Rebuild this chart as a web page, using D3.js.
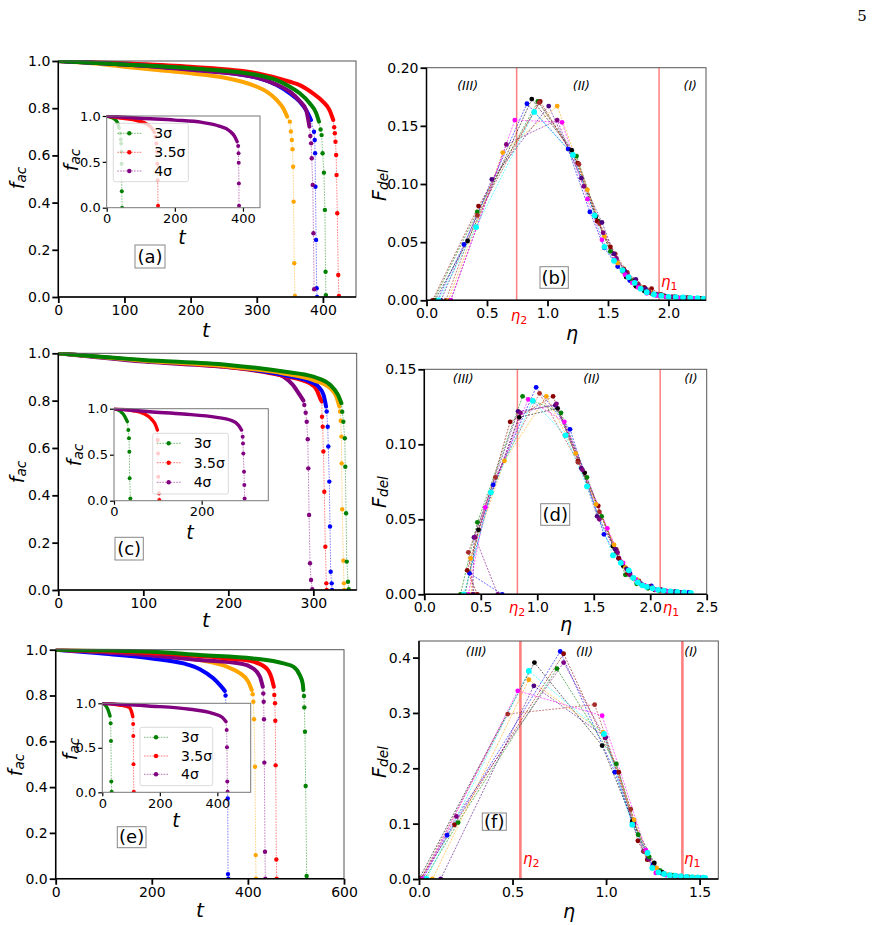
<!DOCTYPE html>
<html>
<head>
<meta charset="utf-8">
<script src="https://cdn.jsdelivr.net/npm/d3@7"></script>
<style>
  body { margin: 0; background: #fff; }
  svg { display: block; font-family: "DejaVu Sans", sans-serif; }
</style>
</head>
<body>
<script>
// ---------- data ----------
// decay curves f_ac(t): "band" is the dense part, "drop" the separated markers
var aMain = [
  { name: "orange", band: [[0,1],[50,0.99],[100,0.976],[150,0.962],[200,0.948],[250,0.93],[300,0.891],[315,0.87],[330,0.835],[340,0.80],[346,0.764]],
    drop: [[350,0.743],[351.6,0.701],[353,0.665],[354,0.626],[355,0.552],[355.7,0.404],[356.7,0.143],[357.7,0.004]] },
  { name: "red", band: [[0,1],[100,0.99],[200,0.976],[300,0.948],[350,0.912],[365,0.898],[385,0.863],[400,0.828],[410,0.792],[415.6,0.75]],
    drop: [[417,0.719],[418,0.694],[419,0.658],[420,0.602],[420.6,0.517],[421.7,0.355],[423.2,0.093],[424.2,0.004]] },
  { name: "blue", band: [[0,1],[100,0.985],[200,0.965],[300,0.93],[330,0.898],[350,0.863],[365,0.828],[375,0.79],[382,0.75]],
    drop: [[386.5,0.70],[387.6,0.665],[388.2,0.609],[388.7,0.467],[389.7,0.242],[390.6,0.037],[391.2,0.0]] },
  { name: "purple", band: [[0,1],[100,0.985],[200,0.963],[300,0.93],[330,0.9],[350,0.87],[365,0.83],[374.6,0.792],[379.6,0.722]],
    drop: [[381,0.682],[382.2,0.651],[383.1,0.588],[384.6,0.475],[385.7,0.27],[386.7,0.033]] },
  { name: "green", band: [[0,1],[100,0.985],[200,0.969],[300,0.941],[330,0.919],[350,0.891],[365,0.863],[380,0.821],[390,0.778],[394,0.743]],
    drop: [[396.5,0.71],[398,0.686],[399.5,0.609],[401.5,0.527],[403,0.369],[404,0.107],[404.5,0.008]] }
]
var aInset = [
  { name: "green", band: [[0,1],[13.7,0.985],[25,0.96],[32.5,0.92],[36.4,0.865]],
    drop: [[39.4,0.81],[41.4,0.745],[42.4,0.70],[43.3,0.61],[43.8,0.48],[44.3,0.18],[45.3,0.0]] },
  { name: "red", band: [[0,1],[49,0.974],[88.6,0.949],[118,0.912],[133,0.865],[140,0.82]],
    drop: [[142.8,0.774],[145.8,0.70],[147.8,0.61],[148.7,0.48],[149.7,0.30],[150.7,0.02]] },
  { name: "purple", band: [[0,1],[100,0.975],[200,0.955],[280,0.93],[330,0.89],[360,0.84],[375,0.78],[383,0.72]],
    drop: [[386,0.673],[387,0.593],[387.5,0.49],[388,0.265],[388.5,0.02]] }
]
var cMain = [
  { name: "purple", band: [[0,1],[100,0.965],[200,0.941],[245,0.923],[265,0.901],[276,0.866],[284,0.824],[288.3,0.8]],
    drop: [[289.4,0.782],[291,0.749],[292.2,0.711],[293.4,0.637],[294.1,0.514],[295,0.317],[296.1,0.113],[297.3,0.042],[298.8,0.003]] },
  { name: "red", band: [[0,1],[100,0.968],[200,0.942],[265,0.905],[296,0.873],[304,0.845],[308,0.81],[310,0.796]],
    drop: [[310.2,0.732],[311,0.69],[311.8,0.585],[312.9,0.415],[314.1,0.183],[315.3,0.028],[315.7,0]] },
  { name: "blue", band: [[0,1],[100,0.969],[200,0.944],[265,0.908],[296,0.88],[306,0.859],[312,0.824],[315,0.775]],
    drop: [[315.7,0.754],[316.9,0.69],[317.6,0.606],[318.8,0.458],[319.6,0.268],[320.4,0.077],[321.6,0.028],[322,0]] },
  { name: "orange", band: [[0,1],[100,0.969],[200,0.944],[265,0.915],[300,0.887],[320,0.852],[327,0.817],[330.6,0.775]],
    drop: [[331.4,0.754],[332.2,0.715],[333,0.648],[333.3,0.535],[334,0.341],[335.3,0.124],[336,0.028],[336.5,0]] },
  { name: "green", band: [[0,1],[100,0.972],[200,0.951],[265,0.923],[300,0.901],[320,0.866],[329,0.824],[333,0.789]],
    drop: [[334,0.753],[335.3,0.711],[337,0.641],[337.6,0.521],[338.5,0.324],[339.3,0.12],[340.8,0.035],[341.6,0.003]] }
]
var cInset = [
  { name: "green", band: [[0,1],[13.7,0.975],[25,0.913],[30.4,0.859]],
    drop: [[32.7,0.768],[34.2,0.678],[35,0.533],[35.7,0.243],[37.3,0.025]] },
  { name: "red", band: [[0,1],[44,0.978],[67,0.949],[86,0.884],[95,0.822],[99,0.768]],
    drop: [[99.6,0.659],[100.4,0.514],[101,0.261],[102.7,0.08],[103.4,0.007]] },
  { name: "purple", band: [[0,1],[82,0.967],[158,0.942],[234,0.906],[265,0.877],[283.7,0.822],[291,0.768]],
    drop: [[293.5,0.696],[294.3,0.623],[295,0.514],[296.6,0.315],[297.3,0.17],[298,0.025]] }
]
var eMain = [
  { name: "blue", band: [[0,1],[92,0.984],[200,0.962],[266,0.94],[300,0.915],[328,0.875],[342,0.845],[352,0.82]],
    drop: [[353.5,0.80],[355,0.72],[357,0.55],[358,0.35],[358.6,0.02],[359.3,0]] },
  { name: "orange", band: [[0,1],[200,0.977],[300,0.955],[356,0.926],[383.6,0.897],[401,0.86],[408,0.824]],
    drop: [[410,0.806],[411.3,0.773],[412.7,0.696],[414.8,0.489],[416.2,0.103],[416.9,0]] },
  { name: "purple", band: [[0,1],[200,0.975],[300,0.955],[383.6,0.94],[411,0.918],[425,0.882],[431,0.838]],
    drop: [[432.1,0.809],[432.8,0.773],[433.5,0.696],[434.2,0.507],[435.6,0.118],[436.3,0]] },
  { name: "red", band: [[0,1],[200,0.985],[356,0.962],[411,0.948],[439,0.918],[449.5,0.875],[454,0.838]],
    drop: [[455,0.802],[456.4,0.766],[457,0.69],[457.8,0.495],[459.2,0.084],[459.9,0]] },
  { name: "green", band: [[0,1],[200,0.991],[300,0.977],[411,0.962],[474,0.94],[494.5,0.926],[508,0.889],[514,0.853],[515.4,0.824]],
    drop: [[516.7,0.798],[517.4,0.748],[518.8,0.642],[520.2,0.405],[522.3,0.012]] }
]
var eInset = [
  { name: "green", band: [[0,1],[14.5,0.963],[23.5,0.895],[26.8,0.858]],
    drop: [[29,0.775],[30.2,0.577],[31.3,0.12],[32.4,0.007]] },
  { name: "red", band: [[0,1],[59,0.981],[92.7,0.955],[101.7,0.906],[106,0.85]],
    drop: [[107.3,0.768],[107.8,0.633],[108.4,0.315],[109.5,0.007]] },
  { name: "purple", band: [[0,1],[160,0.97],[305,0.933],[383,0.888],[416.7,0.843],[430,0.794]],
    drop: [[432.4,0.70],[433.5,0.506],[434.6,0.12],[435.7,0.007]] }
]
var legendNames = ["green", "red", "purple"]
var legendLabels = ["3\u03c3", "3.5\u03c3", "4\u03c3"]

// distributions F_del(eta)
var bSeries = [
  { name: "blue",    pts: [[0.09,0],[0.31,0.048],[0.83,0.169],[1.17,0.130],[1.35,0.076],[1.47,0.045],[1.58,0.029],[1.68,0.017],[1.77,0.010],[1.86,0.006],[1.96,0.004],[2.06,0.003],[2.16,0.002],[2.26,0.0015]] },
  { name: "black",   pts: [[0.07,0],[0.34,0.051],[0.87,0.173],[1.20,0.129],[1.40,0.072],[1.55,0.034],[1.65,0.020],[1.73,0.012],[1.80,0.008],[1.88,0.005],[1.97,0.0035],[2.07,0.0025],[2.17,0.002],[2.27,0.0015]] },
  { name: "green",   pts: [[0.06,0],[0.42,0.076],[0.92,0.171],[1.24,0.124],[1.42,0.068],[1.52,0.042],[1.62,0.025],[1.70,0.017],[1.78,0.010],[1.86,0.006],[1.95,0.004],[2.05,0.003],[2.15,0.002],[2.25,0.0015]] },
  { name: "maroon",  pts: [[0.05,0],[0.43,0.081],[0.94,0.171],[1.25,0.118],[1.41,0.068],[1.52,0.046],[1.63,0.027],[1.72,0.017],[1.80,0.011],[1.86,0.010],[1.94,0.005],[2.05,0.003],[2.16,0.002],[2.27,0.0015]] },
  { name: "brown",   pts: [[0.16,0],[0.42,0.073],[0.93,0.170],[1.26,0.117],[1.43,0.066],[1.56,0.040],[1.66,0.024],[1.75,0.014],[1.84,0.008],[1.93,0.005],[2.03,0.003],[2.14,0.002],[2.24,0.0015]] },
  { name: "orange",  pts: [[0.18,0],[0.63,0.127],[1.08,0.167],[1.33,0.095],[1.47,0.055],[1.58,0.032],[1.67,0.020],[1.76,0.012],[1.85,0.007],[1.95,0.004],[2.06,0.003],[2.17,0.002]] },
  { name: "indigo",  pts: [[0.12,0],[0.54,0.104],[1.01,0.167],[1.28,0.105],[1.45,0.067],[1.55,0.040],[1.64,0.025],[1.73,0.018],[1.81,0.010],[1.90,0.005],[2.00,0.003],[2.10,0.002],[2.21,0.0015]] },
  { name: "purple",  pts: [[0.20,0],[0.66,0.134],[1.08,0.155],[1.30,0.098],[1.46,0.058],[1.57,0.036],[1.66,0.022],[1.75,0.013],[1.84,0.007],[1.93,0.004],[2.03,0.003],[2.14,0.002]] },
  { name: "magenta", pts: [[0.20,0],[0.73,0.155],[1.12,0.153],[1.33,0.087],[1.45,0.052],[1.55,0.035],[1.64,0.022],[1.70,0.015],[1.75,0.011],[1.82,0.006],[1.90,0.004],[1.98,0.003],[2.08,0.002],[2.20,0.0015]] },
  { name: "cyan",    pts: [[0.10,0],[0.41,0.063],[0.89,0.162],[1.21,0.125],[1.39,0.073],[1.47,0.046],[1.55,0.034],[1.62,0.026],[1.67,0.020],[1.72,0.015],[1.77,0.010],[1.82,0.007],[1.88,0.005],[1.94,0.004],[2.00,0.003],[2.06,0.0028],[2.12,0.0025],[2.18,0.002],[2.24,0.0018],[2.29,0.0015]] }
]
var dSeries = [
  { name: "blue",    pts: [[0.69,0],[0.40,0.014],[0.61,0.073],[0.99,0.138],[1.29,0.110],[1.59,0.040],[1.72,0.024],[1.82,0.014],[1.92,0.007],[2.01,0.0056],[2.10,0.003],[2.22,0.0018],[2.34,0.0012]] },
  { name: "black",   pts: [[0.36,0],[0.48,0.043],[0.84,0.118],[1.18,0.124],[1.42,0.081],[1.67,0.032],[1.76,0.019],[1.85,0.011],[1.94,0.006],[2.04,0.003],[2.14,0.002],[2.26,0.0013]] },
  { name: "green",   pts: [[0.32,0],[0.47,0.048],[0.87,0.132],[1.21,0.121],[1.44,0.078],[1.57,0.052],[1.70,0.028],[1.78,0.013],[1.88,0.007],[1.98,0.004],[2.08,0.0025],[2.20,0.0015]] },
  { name: "maroon",  pts: [[0.47,0],[0.38,0.016],[0.76,0.115],[1.14,0.132],[1.36,0.089],[1.54,0.059],[1.72,0.024],[1.80,0.014],[1.90,0.008],[2.00,0.005],[2.10,0.003],[2.22,0.0016]] },
  { name: "brown",   pts: [[0.44,0],[0.39,0.028],[0.63,0.078],[1.02,0.134],[1.36,0.088],[1.55,0.055],[1.70,0.030],[1.80,0.016],[1.90,0.009],[2.00,0.005],[2.12,0.0025],[2.25,0.0014]] },
  { name: "orange",  pts: [[0.42,0],[0.41,0.024],[0.71,0.089],[1.08,0.132],[1.34,0.094],[1.52,0.060],[1.68,0.033],[1.78,0.018],[1.88,0.010],[1.98,0.005],[2.08,0.003],[2.20,0.0016]] },
  { name: "indigo",  pts: [[0.43,0],[0.44,0.038],[0.83,0.122],[1.16,0.126],[1.39,0.084],[1.53,0.052],[1.69,0.030],[1.79,0.017],[1.89,0.008],[1.99,0.005],[2.10,0.0028],[2.22,0.0016]] },
  { name: "purple",  pts: [[0.65,0],[0.45,0.038],[0.85,0.121],[1.17,0.127],[1.40,0.083],[1.55,0.050],[1.71,0.028],[1.82,0.013],[1.92,0.007],[2.02,0.004],[2.14,0.0022],[2.28,0.0012]] },
  { name: "magenta", pts: [[0.39,0],[0.54,0.058],[0.92,0.130],[1.24,0.115],[1.62,0.044],[1.76,0.021],[1.87,0.010],[1.95,0.006],[2.05,0.003],[2.16,0.002],[2.30,0.0012]] },
  { name: "cyan",    pts: [[0.35,0],[0.59,0.068],[0.96,0.129],[1.25,0.106],[1.44,0.072],[1.67,0.026],[1.74,0.021],[1.81,0.016],[1.85,0.011],[1.89,0.008],[1.93,0.006],[1.97,0.005],[2.02,0.004],[2.07,0.003],[2.12,0.0025],[2.18,0.002],[2.24,0.0016],[2.30,0.0013],[2.36,0.001]] }
]
var fSeries = [
  { name: "blue",    pts: [[0.02,0],[0.15,0.079],[0.755,0.411],[1.047,0.193],[1.14,0.102],[1.20,0.05],[1.25,0.025],[1.30,0.010],[1.36,0.006],[1.43,0.004],[1.50,0.002]] },
  { name: "maroon",  pts: [[0.01,0],[0.19,0.098],[0.773,0.407],[1.068,0.193],[1.17,0.069],[1.22,0.035],[1.28,0.015],[1.34,0.007],[1.41,0.004],[1.48,0.0025]] },
  { name: "indigo",  pts: [[0.116,0],[0.614,0.349],[0.998,0.256],[1.14,0.103],[1.225,0.038],[1.28,0.014],[1.35,0.007],[1.43,0.004],[1.51,0.002]] },
  { name: "purple",  pts: [[0.01,0],[0.20,0.113],[0.773,0.391],[0.995,0.255],[1.15,0.10],[1.23,0.036],[1.30,0.012],[1.38,0.005],[1.46,0.003]] },
  { name: "green",   pts: [[0.03,0],[0.209,0.102],[0.737,0.380],[1.055,0.208],[1.172,0.080],[1.23,0.04],[1.29,0.015],[1.36,0.007],[1.44,0.004],[1.52,0.002]] },
  { name: "black",   pts: [[0.0,0],[0.617,0.391],[0.979,0.241],[1.141,0.105],[1.258,0.029],[1.30,0.012],[1.37,0.006],[1.45,0.003],[1.52,0.002]] },
  { name: "orange",  pts: [[0.072,0],[0.587,0.360],[0.984,0.265],[1.15,0.107],[1.22,0.045],[1.27,0.02],[1.33,0.008],[1.40,0.005],[1.47,0.003]] },
  { name: "brown",   pts: [[0.01,0],[0.474,0.298],[0.939,0.315],[1.132,0.126],[1.20,0.05],[1.25,0.022],[1.31,0.01],[1.38,0.005],[1.45,0.003]] },
  { name: "magenta", pts: [[0.02,0],[0.528,0.340],[0.979,0.295],[1.213,0.052],[1.266,0.011],[1.32,0.007],[1.39,0.005],[1.46,0.003]] },
  { name: "cyan",    pts: [[0.04,0],[0.587,0.376],[0.989,0.262],[1.14,0.098],[1.222,0.047],[1.247,0.020],[1.28,0.012],[1.31,0.009],[1.34,0.007],[1.37,0.006],[1.40,0.005],[1.43,0.004],[1.46,0.0035],[1.49,0.003],[1.52,0.0025],[1.53,0.002]] }
]
// eta_2, eta_1 thresholds
var bEta = [0.745, 1.922]
var dEta = [0.824, 2.088]
var fEta = [0.542, 1.408]
var regionLabels = ["(III)", "(II)", "(I)"]

// tick values
var aTicksX = [0, 100, 200, 300, 400], cTicksX = [0, 100, 200, 300], eTicksX = [0, 200, 400, 600]
var mainTicksY = [0, 0.2, 0.4, 0.6, 0.8, 1.0]
var insetTicksY = [0, 0.5, 1.0]
var bTicksX = [0, 0.5, 1.0, 1.5, 2.0], bTicksY = [0, 0.05, 0.1, 0.15, 0.2]
var dTicksX = [0, 0.5, 1.0, 1.5, 2.0, 2.5], dTicksY = [0, 0.05, 0.1, 0.15]
var fTicksX = [0, 0.5, 1.0, 1.5], fTicksY = [0, 0.1, 0.2, 0.3, 0.4]

var palette = { green: "#008000", blue: "#0000ff", orange: "#ffa500", red: "#ff0000", purple: "#800080",
  black: "#000000", maroon: "#8b0000", brown: "#a52a2a", indigo: "#4b0082", magenta: "#ff00ff", cyan: "#00ffff" }

// ---------- drawing ----------
var W = 876, H = 925
var svg = d3.select("body").append("svg").attr("width", W).attr("height", H)
var clipCount = 0

function makeAxes(box, xDom, yDom, xTicks, yTicks, xFmt, yFmt, inset) {
  var x = d3.scaleLinear().domain(xDom).range([box.left, box.right])
  var y = d3.scaleLinear().domain(yDom).range([box.bottom, box.top])
  var g = svg.append("g")
  if (inset) {
    g.append("rect").attr("x", box.left).attr("y", box.top)
      .attr("width", box.right - box.left).attr("height", box.bottom - box.top).attr("fill", "#fff")
  }
  var id = "clip" + (clipCount++)
  g.append("clipPath").attr("id", id).append("rect")
    .attr("x", box.left).attr("y", box.top - 1)
    .attr("width", box.right - box.left).attr("height", box.bottom - box.top + 1)
  var plot = g.append("g").attr("clip-path", "url(#" + id + ")")

  var tickLen = inset ? 4 : 6
  var fs = inset ? 13 : 14
  var xAxis = g.append("g").attr("transform", "translate(0," + box.bottom + ")")
    .call(d3.axisBottom(x).tickValues(xTicks).tickFormat(xFmt).tickSize(tickLen).tickPadding(2))
  var yAxis = g.append("g").attr("transform", "translate(" + box.left + ",0)")
    .call(d3.axisLeft(y).tickValues(yTicks).tickFormat(yFmt).tickSize(tickLen).tickPadding(2))
  ;[xAxis, yAxis].forEach(function(a) {
    a.select(".domain").remove()
    a.selectAll("line").attr("stroke", "#000").attr("stroke-width", inset ? 1.2 : 1.8)
    a.selectAll("text").attr("font-size", fs).attr("fill", "#000")
      .attr("font-family", "DejaVu Sans")
  })
  // frame
  var frame = g.append("g").attr("fill", "none")
  frame.append("rect").attr("x", box.left).attr("y", box.top)
    .attr("width", box.right - box.left).attr("height", box.bottom - box.top)
    .attr("stroke", inset ? "#777" : "#555").attr("stroke-width", 1)
  if (!inset) {
    frame.append("path").attr("d", "M" + box.left + "," + box.top + "V" + box.bottom + "H" + box.right)
      .attr("stroke", "#000").attr("stroke-width", 1.5)
  }
  return { g: g, plot: plot, x: x, y: y, frame: frame }
}

function drawDecay(ax, series, bandW, r) {
  var thin = d3.line().x(function(d) { return ax.x(d[0]) }).y(function(d) { return ax.y(d[1]) })
  var smooth = d3.line().curve(d3.curveMonotoneX).x(function(d) { return ax.x(d[0]) }).y(function(d) { return ax.y(d[1]) })
  series.forEach(function(s) {
    var c = palette[s.name]
    ax.plot.append("path").attr("d", thin(s.band.slice(-1).concat(s.drop)))
      .attr("fill", "none").attr("stroke", c).attr("stroke-width", 0.9)
      .attr("stroke-dasharray", "1.6,1.2").attr("opacity", 0.55)
    ax.plot.append("path").attr("d", smooth(s.band))
      .attr("fill", "none").attr("stroke", c).attr("stroke-width", bandW)
      .attr("stroke-linecap", "round").attr("stroke-linejoin", "round")
    ax.plot.selectAll(null).data(s.drop).enter().append("circle")
      .attr("cx", function(d) { return ax.x(d[0]) })
      .attr("cy", function(d) { return ax.y(d[1]) })
      .attr("r", r).attr("fill", c)
  })
}

function drawDist(ax, series) {
  var line = d3.line().x(function(d) { return ax.x(d[0]) }).y(function(d) { return ax.y(d[1]) })
  series.forEach(function(s) {
    var c = palette[s.name]
    ax.plot.append("path").attr("d", line(s.pts))
      .attr("fill", "none").attr("stroke", c).attr("stroke-width", 0.8)
      .attr("stroke-dasharray", "2,1.3").attr("opacity", 0.75)
  })
  series.forEach(function(s) {
    var c = palette[s.name]
    ax.plot.selectAll(null).data(s.pts).enter().append("circle")
      .attr("cx", function(d) { return ax.x(d[0]) })
      .attr("cy", function(d) { return ax.y(d[1]) })
      .attr("r", s.name == "cyan" ? 2.9 : 2.4).attr("fill", c)
  })
}

function drawLegend(box, rows) {
  var g = svg.append("g")
  g.append("rect").attr("x", box.left).attr("y", box.top)
    .attr("width", box.right - box.left).attr("height", box.bottom - box.top)
    .attr("rx", 2).attr("fill", "#fff").attr("fill-opacity", 0.8)
    .attr("stroke", "#d0d0d0").attr("stroke-width", 0.8)
  legendNames.forEach(function(n, i) {
    var yy = rows[i]
    g.append("line").attr("x1", box.left + 4).attr("x2", box.left + 28).attr("y1", yy).attr("y2", yy)
      .attr("stroke", palette[n]).attr("stroke-width", 0.9).attr("stroke-dasharray", "1.6,1.2").attr("opacity", 0.6)
    g.append("circle").attr("cx", box.left + 16).attr("cy", yy).attr("r", 2.2).attr("fill", palette[n])
    g.append("text").attr("x", box.left + 41).attr("y", yy + 5).attr("font-size", 14).text(legendLabels[i])
  })
}

function yLabel(x, y, main, sub, size) {
  var t = svg.append("text").attr("transform", "translate(" + x + "," + y + ") rotate(-90)")
    .attr("text-anchor", "middle").attr("dominant-baseline", "central")
    .attr("font-size", size).attr("font-style", "italic")
  t.append("tspan").text(main)
  t.append("tspan").attr("dy", "0.3em").attr("font-size", size * 0.72).text(sub)
}

function xLabel(x, y, s, size) {
  svg.append("text").attr("x", x).attr("y", y).attr("text-anchor", "middle")
    .attr("font-size", size).attr("font-style", "italic").text(s)
}

function boxLabel(b, s) {
  svg.append("rect").attr("x", b[0]).attr("y", b[1]).attr("width", b[2] - b[0]).attr("height", b[3] - b[1])
    .attr("fill", "#fff").attr("stroke", "#888").attr("stroke-width", 1)
  svg.append("text").attr("x", (b[0] + b[2]) / 2).attr("y", (b[1] + b[3]) / 2 + 6)
    .attr("text-anchor", "middle").attr("font-size", 18).text(s)
}

function etaLabel(x, y, sub, anchor) {
  var t = svg.append("text").attr("x", x).attr("y", y).attr("fill", "#ff0000")
    .attr("font-size", 15).attr("font-style", "italic").attr("text-anchor", anchor || "start")
  t.append("tspan").text("\u03b7")
  t.append("tspan").attr("dy", "0.25em").attr("font-size", 11).attr("font-style", "normal").text(sub)
}

function regions(ax, eta, yPos, ew) {
  eta.forEach(function(e) {
    ax.plot.append("line").attr("x1", ax.x(e)).attr("x2", ax.x(e))
      .attr("y1", ax.y.range()[0]).attr("y2", ax.y.range()[1])
      .attr("stroke", "#ff0000").attr("stroke-opacity", 0.5).attr("stroke-width", ew)
  })
  yPos.forEach(function(p, i) {
    svg.append("text").attr("x", ax.x(p[0])).attr("y", ax.y(p[1]))
      .attr("text-anchor", "middle").attr("font-size", 12.5).attr("font-style", "italic")
      .text(regionLabels[i])
  })
}

var f1 = d3.format(".1f"), f2 = d3.format(".2f"), fd = d3.format("d")

// ---- panel (a)
var A = makeAxes({ left: 58.3, right: 356, top: 61, bottom: 297 }, [0, 450], [0, 1], aTicksX, mainTicksY, fd, f1, false)
drawDecay(A, aMain, 4, 2.2)
var Ai = makeAxes({ left: 106.7, right: 260, top: 116, bottom: 207.7 }, [0, 450], [0, 1], [0, 200, 400], insetTicksY, fd, f1, true)
drawDecay(Ai, aInset, 3.4, 2)
drawLegend({ left: 113.3, right: 188.3, top: 123.3, bottom: 181.7 }, [133.3, 152.3, 171])
yLabel(17, 178, "f", "ac", 19); xLabel(206, 337, "t", 20)
yLabel(71, 160, "f", "ac", 19); xLabel(182, 244, "t", 19)
boxLabel([135, 245, 165, 268], "(a)")

// ---- panel (b)
var B = makeAxes({ left: 426.5, right: 706, top: 67.7, bottom: 300.3 }, [0, 2.31], [0, 0.2], bTicksX, bTicksY, f1, f2, false)
regions(B, bEta, [[0.34, 0.181], [1.28, 0.181], [2.18, 0.181]], 1.5)
drawDist(B, bSeries)
yLabel(379, 185, "F", "del", 19); xLabel(572, 340, "\u03b7", 19)
boxLabel([540, 266.7, 568.3, 288.3], "(b)")
etaLabel(661, 287, "1"); etaLabel(519, 321, "2", "middle")

// ---- panel (c)
var C = makeAxes({ left: 58.3, right: 356.7, top: 353.3, bottom: 590 }, [0, 351], [0, 1], cTicksX, mainTicksY, fd, f1, false)
drawDecay(C, cMain, 4, 2.2)
var Ci = makeAxes({ left: 114, right: 268.3, top: 408.7, bottom: 500.7 }, [0, 352], [0, 1], [0, 200], insetTicksY, fd, f1, true)
drawDecay(Ci, cInset, 3.4, 2)
drawLegend({ left: 152.7, right: 228.3, top: 433.3, bottom: 494 }, [443.3, 462.7, 482.3])
yLabel(17, 472, "f", "ac", 19); xLabel(206, 627, "t", 20)
yLabel(74, 455, "f", "ac", 19); xLabel(190, 539, "t", 19)
boxLabel([115, 537.3, 143.3, 560], "(c)")

// ---- panel (d)
var D = makeAxes({ left: 424.3, right: 706.7, top: 369.3, bottom: 594.3 }, [0, 2.5], [0, 0.15], dTicksX, dTicksY, f1, f2, false)
regions(D, dEta, [[0.345, 0.141], [1.482, 0.141], [2.36, 0.141]], 1.5)
drawDist(D, dSeries)
yLabel(379, 492, "F", "del", 19); xLabel(566, 631, "\u03b7", 19)
boxLabel([540.7, 503.7, 569.7, 525.3], "(d)")
etaLabel(517, 613, "2", "middle"); etaLabel(671, 613, "1", "middle")

// ---- panel (e)
var E = makeAxes({ left: 55.7, right: 344, top: 649.7, bottom: 878.7 }, [0, 600], [0, 1], eTicksX, mainTicksY, fd, f1, false)
drawDecay(E, eMain, 4, 2.2)
var Ei = makeAxes({ left: 102.3, right: 250.7, top: 703.3, bottom: 792.3 }, [0, 516], [0, 1], [0, 200, 400], insetTicksY, fd, f1, true)
drawDecay(Ei, eInset, 3.4, 2)
drawLegend({ left: 140, right: 212.7, top: 727.3, bottom: 785.7 }, [737.3, 756, 774.3])
yLabel(15, 765, "f", "ac", 19); xLabel(200, 917, "t", 20)
yLabel(70, 749, "f", "ac", 19); xLabel(176, 827, "t", 19)
boxLabel([117.3, 826.7, 146, 847.7], "(e)")

// ---- panel (f)
var F = makeAxes({ left: 419, right: 718.3, top: 641, bottom: 879 }, [0, 1.6], [0, 0.43], fTicksX, fTicksY, f1, f1, false)
regions(F, fEta, [[0.306, 0.403], [0.885, 0.403], [1.454, 0.403]], 2.6)
drawDist(F, fSeries)
yLabel(379, 762, "F", "del", 19); xLabel(569, 918, "\u03b7", 19)
boxLabel([482.3, 813, 506.3, 830.3], "(f)")
etaLabel(523, 864, "2"); etaLabel(684, 864, "1")

// page number
svg.append("text").attr("x", 862).attr("y", 21).attr("text-anchor", "middle")
  .attr("font-family", "DejaVu Serif").attr("font-size", 15).text("5")
</script>
</body>
</html>
